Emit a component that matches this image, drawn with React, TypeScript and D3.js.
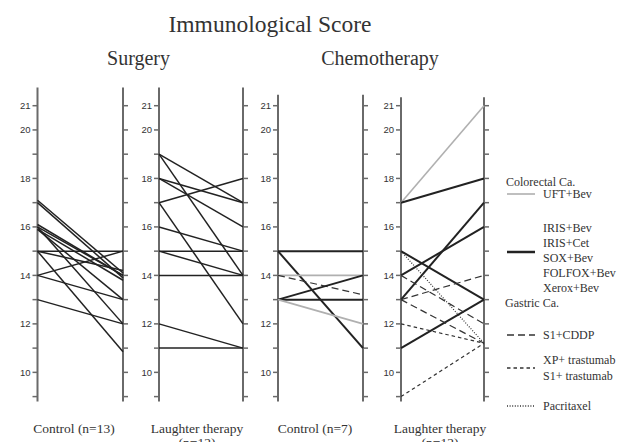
import React from "react";
import * as d3 from "d3";

// ---- Data ----
const panelLabels = ["Control (n=13)", "Laughter therapy\n(n=12)", "Control (n=7)", "Laughter therapy\n(n=12)"];
const groupTitles = ["Surgery", "Chemotherapy"];
const yTickValues = [9, 10, 11, 12, 13, 14, 15, 16, 17, 18, 19, 20, 21];
const yTickLabels = [10, 12, 14, 16, 18, 20, 21];

const surgControlPre = [17.1, 17.0, 16.1, 16.0, 15.9, 15.9, 16.0, 15.0, 15.0, 15.0, 14.0, 14.0, 13.0];
const surgControlPost = [14.1, 13.9, 14.0, 14.0, 13.8, 13.0, 12.0, 15.0, 14.2, 10.85, 15.0, 13.0, 12.0];

const surgLaughPre = [19, 19, 18, 18, 17, 17, 16, 15, 15, 14, 12, 11];
const surgLaughPost = [17, 14, 17, 16, 18, 12, 15, 15, 14, 14, 11, 11];

const chemoControlPre = [15, 15, 14, 14, 13, 13, 13];
const chemoControlPost = [15, 11, 14, 13.2, 14, 13, 12];
const chemoControlType = ["colorectal", "colorectal", "uft", "s1cddp", "colorectal", "colorectal", "uft"];

const chemoLaughPre = [17, 17, 14, 13, 15, 11, 13, 14, 13, 12, 9, 15];
const chemoLaughPost = [21, 18, 16, 17, 13, 13, 14, 12, 11.2, 11.2, 11.2, 11.2];
const chemoLaughType = ["uft", "colorectal", "colorectal", "colorectal", "colorectal", "colorectal", "s1cddp", "s1cddp", "s1cddp", "trast", "trast", "pacli"];

const legendGroups = ["Colorectal Ca.", "Gastric Ca."];
const legendUft = ["UFT+Bev"];
const legendColorectal = ["IRIS+Bev", "IRIS+Cet", "SOX+Bev", "FOLFOX+Bev", "Xerox+Bev"];
const legendS1cddp = ["S1+CDDP"];
const legendTrast = ["XP+ trastumab", "S1+ trastumab"];
const legendPacli = ["Pacritaxel"];

// ---- Styles ----
const styles: Record<string, { stroke: string; width: number; dash?: string }> = {
  plain: { stroke: "#222", width: 1.5 },
  uft: { stroke: "#b0b0b0", width: 1.6 },
  colorectal: { stroke: "#222", width: 2 },
  s1cddp: { stroke: "#333", width: 1.2, dash: "7,4" },
  trast: { stroke: "#333", width: 1.2, dash: "3.5,3" },
  pacli: { stroke: "#333", width: 1.2, dash: "1,1.6" },
};

const serif = "'Liberation Serif', 'Times New Roman', serif";
const sans = "'Liberation Sans', Arial, sans-serif";

const panels = [
  { left: 37.5, right: 123, top: 21.75, pre: surgControlPre, post: surgControlPost, types: null as string[] | null },
  { left: 159, right: 243, top: 21.75, pre: surgLaughPre, post: surgLaughPost, types: null as string[] | null },
  { left: 278, right: 363, top: 21.45, pre: chemoControlPre, post: chemoControlPost, types: chemoControlType },
  { left: 401, right: 484, top: 21.35, pre: chemoLaughPre, post: chemoLaughPost, types: chemoLaughType },
];
const labelCenters = [74, 197, 315, 440];

export default function App() {
  const y = d3.scaleLinear().domain([9, 21]).range([396.6, 105.7]);
  const axisColor = "#6a6a6a";

  return (
    <svg width={621} height={442} style={{ position: "absolute", left: 0, top: 0, background: "#fff" }}>
      <text x={270} y={32} textAnchor="middle" fontFamily={serif} fontSize={23.5} fill="#333">
        Immunological Score
      </text>
      <text x={138.5} y={65} textAnchor="middle" fontFamily={serif} fontSize={20} fill="#333">
        {groupTitles[0]}
      </text>
      <text x={380} y={65} textAnchor="middle" fontFamily={serif} fontSize={20} fill="#333">
        {groupTitles[1]}
      </text>

      {panels.map((p, pi) => {
        const x = d3.scalePoint<string>().domain(["pre", "post"]).range([p.left, p.right]);
        const yTop = y(p.top);
        const yBot = y(9) + 5;
        const [l1, l2] = panelLabels[pi].split("\n");
        const cx = labelCenters[pi];
        return (
          <g key={pi}>
            {(["pre", "post"] as const).map((side) => (
              <g key={side}>
                <line x1={x(side)} x2={x(side)} y1={yTop} y2={yBot} stroke={axisColor} strokeWidth={2} />
                {yTickValues.map((t) => (
                  <line
                    key={t}
                    x1={x(side)}
                    x2={(x(side) as number) + (side === "pre" ? -5 : 5)}
                    y1={y(t)}
                    y2={y(t)}
                    stroke={axisColor}
                    strokeWidth={1.5}
                  />
                ))}
              </g>
            ))}
            {yTickLabels.map((t) => (
              <text
                key={t}
                x={(x("pre") as number) - 7}
                y={y(t)}
                dy="0.35em"
                textAnchor="end"
                fontFamily={sans}
                fontSize={9.5}
                fill="#333"
              >
                {t}
              </text>
            ))}
            {p.pre.map((v, i) => {
              const st = styles[p.types ? p.types[i] : "plain"];
              return (
                <line
                  key={i}
                  x1={x("pre")}
                  x2={x("post")}
                  y1={y(v)}
                  y2={y(p.post[i])}
                  stroke={st.stroke}
                  strokeWidth={st.width}
                  strokeDasharray={st.dash}
                />
              );
            })}
            <text x={cx} y={433} textAnchor="middle" fontFamily={serif} fontSize={13.5} fill="#333">
              {l1}
            </text>
            {l2 && (
              <text x={cx} y={447} textAnchor="middle" fontFamily={serif} fontSize={13.5} fill="#333">
                {l2}
              </text>
            )}
          </g>
        );
      })}

      <g fontFamily={serif} fontSize={12} fill="#333">
        <text x={506} y={186}>{legendGroups[0]}</text>
        <line x1={507} x2={535} y1={194} y2={194} stroke={styles.uft.stroke} strokeWidth={styles.uft.width} />
        <text x={543} y={198}>{legendUft[0]}</text>
        {legendColorectal.map((s, i) => (
          <text key={s} x={543} y={232 + i * 15}>{s}</text>
        ))}
        <line x1={507} x2={535} y1={252} y2={252} stroke={styles.colorectal.stroke} strokeWidth={2.5} />
        <text x={505} y={307}>{legendGroups[1]}</text>
        <line x1={507} x2={535} y1={335} y2={335} stroke={styles.s1cddp.stroke} strokeWidth={1.3} strokeDasharray={styles.s1cddp.dash} />
        <text x={543} y={339}>{legendS1cddp[0]}</text>
        <line x1={507} x2={535} y1={368} y2={368} stroke={styles.trast.stroke} strokeWidth={1.3} strokeDasharray={styles.trast.dash} />
        {legendTrast.map((s, i) => (
          <text key={s} x={543} y={364 + i * 16}>{s}</text>
        ))}
        <line x1={507} x2={535} y1={406} y2={406} stroke={styles.pacli.stroke} strokeWidth={1.3} strokeDasharray={styles.pacli.dash} />
        <text x={543} y={410}>{legendPacli[0]}</text>
      </g>
    </svg>
  );
}
